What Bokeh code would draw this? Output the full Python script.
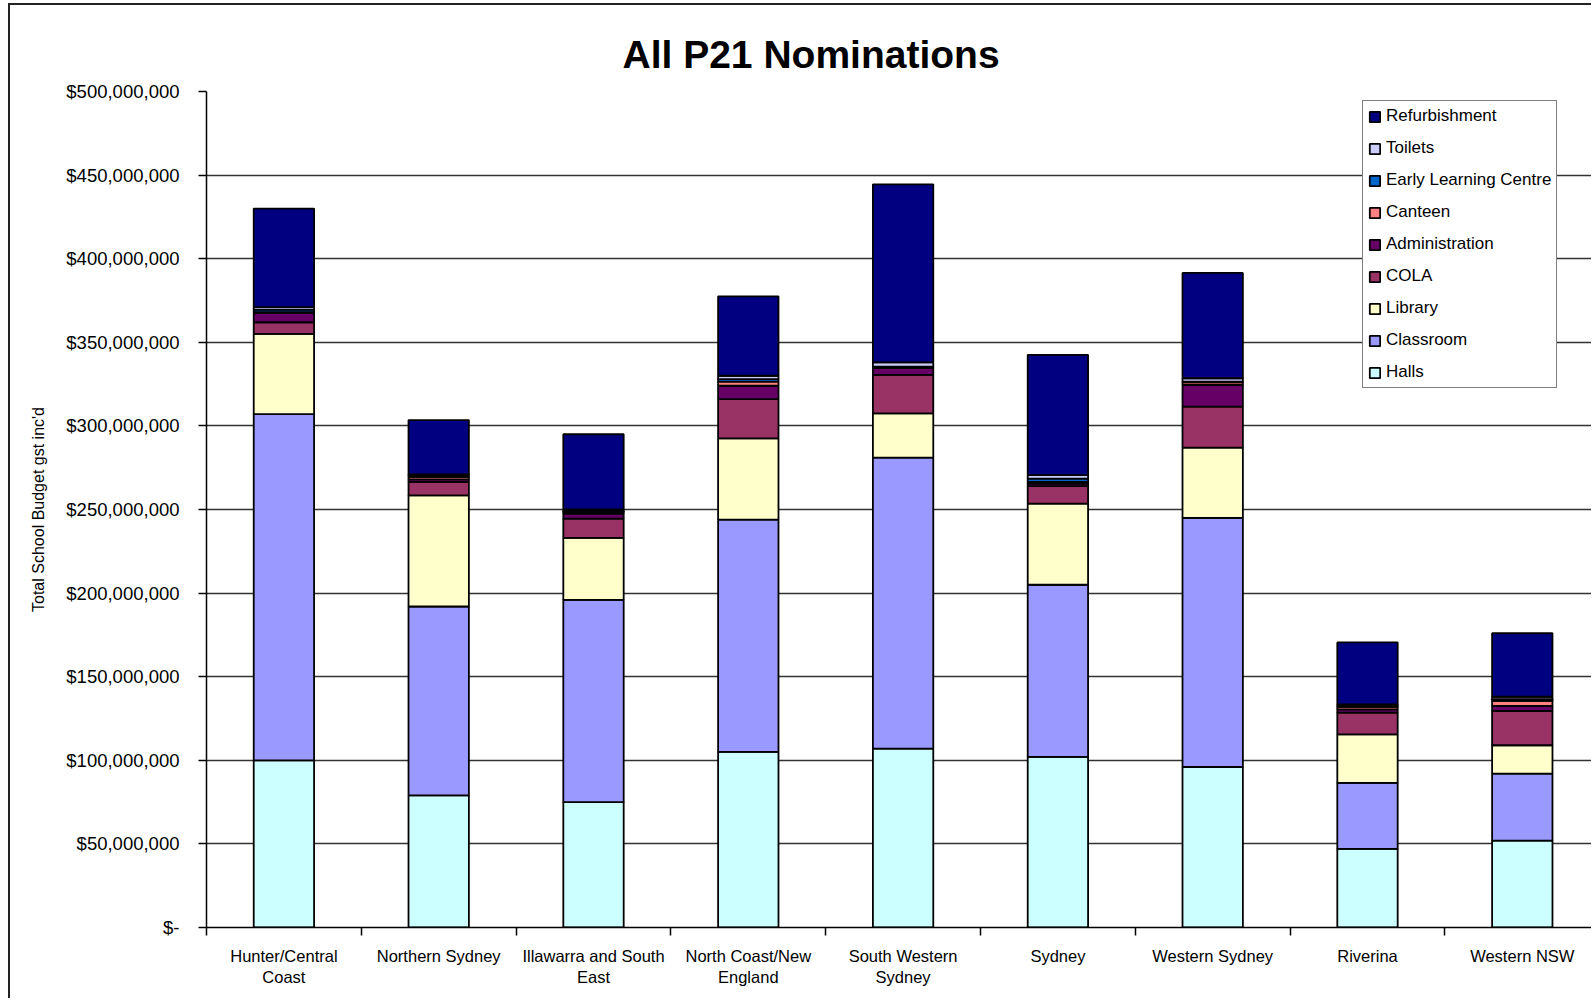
from bokeh.plotting import figure
from bokeh.models import (ColumnDataSource, FixedTicker, Legend, LegendItem, Range1d,
                          NumeralTickFormatter, Title)
from bokeh.embed import file_html
from bokeh.resources import INLINE

# ---- data (values in $ millions) ----
regions = ["Hunter/Central\nCoast", "Northern Sydney", "Illawarra and South\nEast",
           "North Coast/New\nEngland", "South Western\nSydney", "Sydney",
           "Western Sydney", "Riverina", "Western NSW"]

halls = [100, 79, 75, 105, 107, 102, 96, 47, 52]
classroom = [207, 113, 121, 139, 174, 103, 149, 39.5, 40]
library = [48, 66.5, 37, 48.5, 26.5, 48.5, 42, 29, 17]
cola = [7, 8, 11.5, 23.5, 23, 10.5, 24.5, 13, 20.5]
administration = [5.5, 1.5, 3, 8, 4, 1.5, 13, 2, 3]
canteen = [0.5, 1.5, 0.5, 2.5, 0.5, 1, 1.5, 1.5, 3]
early_learning = [1.5, 0.5, 1, 1.5, 0.5, 2, 0.5, 0.5, 1]
toilets = [1.5, 1, 1, 2, 2.5, 2, 2, 1, 1.5]
refurbishment = [59, 32.5, 45, 47.5, 106.5, 72, 63, 37, 38]

series_names = ["Halls", "Classroom", "Library", "COLA", "Administration", "Canteen",
                "Early Learning Centre", "Toilets", "Refurbishment"]
series_values = [halls, classroom, library, cola, administration, canteen,
                 early_learning, toilets, refurbishment]
series_colors = ["#CCFFFF", "#9999FF", "#FFFFCC", "#993366", "#660066", "#FF8080",
                 "#0066CC", "#CCCCFF", "#000080"]

y_ticks_m = [0, 50, 100, 150, 200, 250, 300, 350, 400, 450, 500]

# ---- build source ----
centers = [i + 0.5 for i in range(len(regions))]
boundaries = [i for i in range(len(regions) + 1)]
data = {"x": centers}
for name, vals in zip(series_names, series_values):
    data[name] = [v * 1e6 for v in vals]
src = ColumnDataSource(data)

FONT = "Liberation Sans"

p = figure(width=1583, height=995, output_backend="svg", toolbar_location=None,
           x_range=Range1d(0, 8.96), y_range=Range1d(0, 500e6),
           min_border_left=196, min_border_right=0, min_border_top=86,
           min_border_bottom=73)
p.outline_line_color = None
p.background_fill_color = "white"
p.border_fill_color = "white"
p.styles = {"border-left": "2px solid #222", "border-top": "2px solid #222",
            "margin-left": "8px", "margin-top": "3px"}

renderers = p.vbar_stack(series_names, x="x", width=0.39, source=src,
                         fill_color=series_colors, line_color="black", line_width=1.8)

items = [LegendItem(label=n, renderers=[r]) for n, r in zip(series_names, renderers)]
items.reverse()
legend = Legend(items=items, location=(1156, 539))
legend.label_text_font = FONT
legend.label_text_font_size = "17px"
legend.label_text_color = "black"
legend.glyph_width = 13
legend.glyph_height = 13
legend.label_height = 13
legend.spacing = 12
legend.padding = 5
legend.margin = 0
legend.label_standoff = 5
legend.border_line_color = "black"
legend.border_line_width = 1.2
legend.background_fill_color = "white"
legend.background_fill_alpha = 1
p.add_layout(legend)

# title
p.title = Title(text="All P21 Nominations", align="left", offset=416,
                text_font=FONT, text_font_size="39px", text_font_style="bold",
                text_color="black", standoff=32)

# y axis
yax = p.yaxis[0]
yax.ticker = FixedTicker(ticks=[t * 1e6 for t in y_ticks_m], minor_ticks=[])
yax.formatter = NumeralTickFormatter(format="$0,0")
yax.major_label_overrides = {0: "$-"}
yax.major_label_text_font = FONT
yax.major_label_text_font_size = "18.5px"
yax.major_label_text_color = "black"
yax.major_tick_out = 8
yax.major_tick_in = 0
yax.major_tick_line_color = "black"
yax.major_tick_line_width = 1.5
yax.axis_line_color = "black"
yax.axis_line_width = 1.5
yax.major_label_standoff = 19
yax.axis_label = "Total School Budget gst inc'd"
yax.axis_label_text_font = FONT
yax.axis_label_text_font_size = "16px"
yax.axis_label_text_font_style = "normal"
yax.axis_label_text_color = "black"
yax.axis_label_standoff = 16

# x axis
xax = p.xaxis[0]
xax.ticker = FixedTicker(ticks=centers, minor_ticks=boundaries)
xax.major_label_overrides = {c: lab for c, lab in zip(centers, regions)}
xax.major_label_text_font = FONT
xax.major_label_text_font_size = "16.5px"
xax.major_label_text_color = "black"
xax.major_tick_line_color = None
xax.minor_tick_out = 8
xax.minor_tick_in = 0
xax.minor_tick_line_color = "black"
xax.minor_tick_line_width = 1.5
xax.axis_line_color = "black"
xax.axis_line_width = 1.5
xax.major_label_standoff = 11

p.xgrid.visible = False
p.ygrid.grid_line_color = "#333333"
p.ygrid.grid_line_width = 1.5
p.ygrid.ticker = yax.ticker

open("out.html", "w").write(file_html(p, INLINE))
